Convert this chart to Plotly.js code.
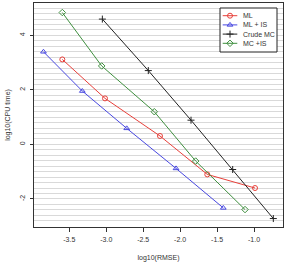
<!DOCTYPE html>
<html>
<head>
<meta charset="utf-8">
<script src="https://cdn.plot.ly/plotly-3.0.1.min.js"></script>
<style>
  html, body { margin: 0; padding: 0; background: #fff; }
  #chart { width: 286px; height: 262px; }
</style>
</head>
<body>
<div id="chart"></div>
<script>
// Cost vs. accuracy for four estimators (log10 scales)
const seriesNames = ['ML', 'ML + IS', 'Crude MC', 'MC +IS'];

const mlRmse     = [-3.595, -3.017, -2.273, -1.633, -0.987];
const mlCpu      = [3.12, 1.69, 0.31, -1.10, -1.60];

const mlIsRmse   = [-3.85, -3.324, -2.723, -2.056, -1.416];
const mlIsCpu    = [3.40, 1.96, 0.59, -0.88, -2.33];

const crudeRmse  = [-3.053, -2.431, -1.853, -1.289, -0.739];
const crudeCpu   = [4.60, 2.71, 0.89, -0.92, -2.72];

const mcIsRmse   = [-3.595, -3.062, -2.35, -1.79, -1.122];
const mcIsCpu    = [4.84, 2.88, 1.20, -0.61, -2.39];

const xTickVals  = [-3.5, -3.0, -2.5, -2.0, -1.5, -1.0];
const xTickText  = ['-3.5', '-3.0', '-2.5', '-2.0', '-1.5', '-1.0'];
const yTickVals  = [-2, 0, 2, 4];
const yTickText  = ['-2', '0', '2', '4'];

const seriesColors  = ['#e8403a', '#4848e0', '#222222', '#3f8f3f'];
const seriesSymbols = ['circle-open', 'triangle-up-open', 'cross-thin-open', 'diamond-open'];

const FONT = 'Liberation Sans, Arial, sans-serif';
const W = 286, H = 262;
const M = { l: 34, r: 3, t: 3, b: 35 };

function series(i, x, y) {
  return {
    type: 'scatter', mode: 'lines+markers', name: seriesNames[i], x: x, y: y,
    showlegend: false,
    line: { color: seriesColors[i], width: 1 },
    marker: { symbol: seriesSymbols[i], size: 5, color: seriesColors[i],
              line: { color: seriesColors[i], width: 1 } }
  };
}

const traces = [
  series(0, mlRmse, mlCpu),
  series(1, mlIsRmse, mlIsCpu),
  series(2, crudeRmse, crudeCpu),
  series(3, mcIsRmse, mcIsCpu)
];

// Compact legend: drawn on an overlay axis pair measured in pixels
const legBox = { x0: 220, x1: 277, y0: 8, y1: 52 };
const legRow0 = 15.7, legRowStep = 9.2;
const legLine = { x0: 222.7, x1: 237.3 };
const legTextX = 240.5;

// legend frame: white box with a dark border, covering the grid behind it
traces.push({
  type: 'scatter', mode: 'lines', xaxis: 'x2', yaxis: 'y2',
  x: [legBox.x0, legBox.x1, legBox.x1, legBox.x0, legBox.x0],
  y: [legBox.y0, legBox.y0, legBox.y1, legBox.y1, legBox.y0],
  fill: 'toself', fillcolor: '#ffffff',
  line: { color: '#222', width: 1 },
  showlegend: false, hoverinfo: 'skip'
});

const annotations = [];
seriesNames.forEach(function (name, i) {
  const yy = legRow0 + i * legRowStep;
  traces.push({
    type: 'scatter', mode: 'lines', xaxis: 'x2', yaxis: 'y2',
    x: [legLine.x0, legLine.x1], y: [yy, yy],
    showlegend: false, hoverinfo: 'skip',
    line: { color: seriesColors[i], width: 1 }
  });
  traces.push({
    type: 'scatter', mode: 'markers', xaxis: 'x2', yaxis: 'y2',
    x: [(legLine.x0 + legLine.x1) / 2], y: [yy],
    showlegend: false, hoverinfo: 'skip',
    marker: { symbol: seriesSymbols[i], size: 5, color: seriesColors[i],
              line: { color: seriesColors[i], width: 1 } }
  });
  annotations.push({
    xref: 'x2', yref: 'y2', x: legTextX, y: yy, text: name,
    xanchor: 'left', yanchor: 'middle', showarrow: false,
    font: { family: FONT, size: 7, color: '#333' }
  });
});

const layout = {
  width: W, height: H,
  margin: M,
  paper_bgcolor: '#ffffff', plot_bgcolor: '#ffffff',
  font: { family: FONT, size: 7, color: '#333' },
  showlegend: false,
  annotations: annotations,
  xaxis: {
    range: [-3.978, -0.608],
    tickvals: xTickVals, ticktext: xTickText,
    showgrid: false, zeroline: false,
    showline: true, mirror: true, linecolor: '#333', linewidth: 1,
    ticks: 'outside', ticklen: 4, tickcolor: '#333', ticklabelstandoff: 2,
    tickfont: { family: FONT, size: 7, color: '#333' },
    title: { text: 'log10(RMSE)', font: { family: FONT, size: 7, color: '#333' }, standoff: 12 }
  },
  yaxis: {
    range: [-3.03, 5.19],
    tickvals: yTickVals, ticktext: yTickText, tickangle: -90,
    showgrid: true, gridcolor: '#d9d9d9', gridwidth: 1,
    minor: { dtick: 0.2, tick0: 0, showgrid: true, gridcolor: '#d9d9d9', gridwidth: 1, ticks: '' },
    zeroline: false,
    showline: true, mirror: true, linecolor: '#333', linewidth: 1,
    ticks: 'outside', ticklen: 3, tickcolor: '#333', ticklabelstandoff: 2,
    tickfont: { family: FONT, size: 7, color: '#333' },
    title: { text: 'log10(CPU time)', font: { family: FONT, size: 7, color: '#333' }, standoff: 7 }
  },
  xaxis2: {
    overlaying: 'x', range: [M.l, W - M.r], visible: false, fixedrange: true
  },
  yaxis2: {
    overlaying: 'y', range: [H - M.b, M.t], visible: false, fixedrange: true
  }
};

Plotly.newPlot('chart', traces, layout, { displayModeBar: false, staticPlot: true });
</script>
</body>
</html>
